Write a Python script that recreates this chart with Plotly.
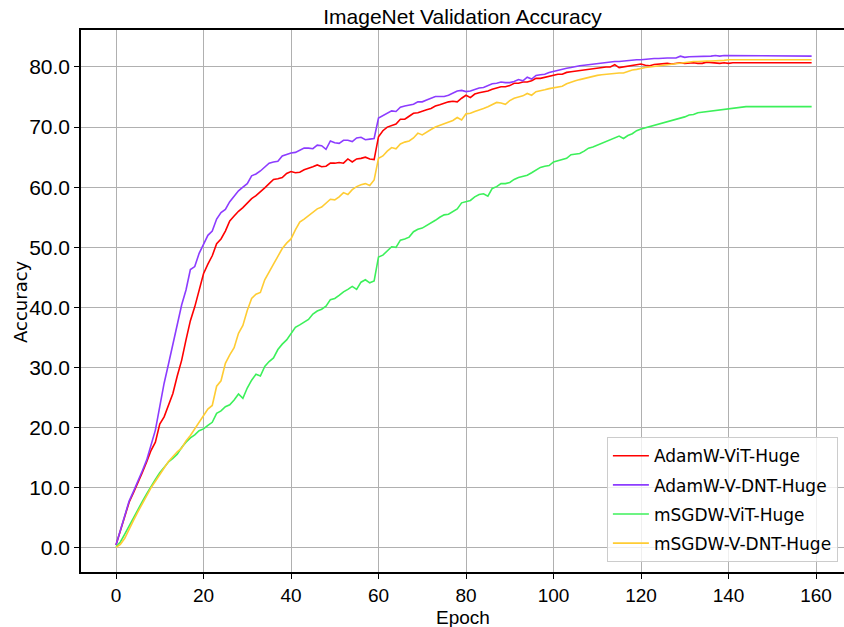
import plotly.graph_objects as go

epochs = list(range(160))

adamw_vit = [
    0.5, 2.9, 5.3, 7.6, 9.2, 10.8, 12.5, 14.3, 16.2, 17.6,
    20.6, 21.8, 23.6, 25.7, 28.6, 31.2, 34.6, 37.8, 40.1, 43.0,
    45.6, 47.2, 48.6, 50.6, 51.4, 52.7, 54.4, 55.2, 56.0, 56.6,
    57.3, 58.1, 58.6, 59.2, 59.9, 60.6, 61.3, 61.4, 61.6, 62.3,
    62.6, 62.4, 62.5, 62.9, 63.1, 63.4, 63.7, 63.4, 63.5, 64.0,
    64.0, 64.1, 64.0, 64.7, 64.2, 64.7, 64.8, 65.0, 64.7, 64.6,
    68.4, 69.4, 70.0, 70.2, 70.5, 71.3, 71.3, 71.8, 72.3, 72.4,
    72.7, 72.9, 73.1, 73.5, 73.7, 74.0, 74.2, 74.3, 74.2, 74.8,
    75.3, 74.9, 75.5, 75.7, 75.8, 76.0, 76.3, 76.5, 76.7, 76.7,
    76.9, 77.3, 77.3, 77.5, 77.5, 77.7, 78.1, 78.1, 78.3, 78.4,
    78.6, 78.8, 78.8, 79.1, 79.2, 79.3, 79.5, 79.5, 79.6, 79.8,
    79.9, 79.9, 80.0, 80.0, 80.4, 79.9, 80.0, 80.1, 80.2, 80.3,
    80.5, 80.3, 80.2, 80.4, 80.5, 80.5, 80.6, 80.5, 80.6, 80.7,
    80.6, 80.7, 80.7, 80.6, 80.6, 80.8, 80.7, 80.7, 80.6, 80.7,
    80.6, 80.7, 80.7, 80.7, 80.7, 80.7, 80.7, 80.7, 80.7, 80.7,
    80.7, 80.7, 80.7, 80.7, 80.7, 80.7, 80.7, 80.7, 80.7, 80.7,
]

adamw_vdnt = [
    0.5, 2.9, 5.3, 7.8, 9.4, 11.0, 12.8, 14.6, 17.3, 19.6,
    23.5, 27.4, 30.6, 33.9, 37.6, 40.4, 42.9, 46.3, 46.8, 49.0,
    50.5, 52.0, 52.7, 54.7, 55.8, 56.3, 57.6, 58.6, 59.4, 60.0,
    60.6, 61.9, 62.2, 62.7, 63.4, 64.0, 64.2, 64.3, 65.2, 65.5,
    65.7, 65.8, 66.1, 66.5, 66.5, 66.4, 67.0, 66.9, 66.3, 67.7,
    67.4, 67.3, 67.8, 67.8, 67.6, 68.2, 68.3, 67.9, 68.0, 68.1,
    71.5, 71.9, 72.3, 72.7, 72.6, 73.3, 73.5, 73.6, 73.8, 74.2,
    74.2, 74.5, 74.8, 75.1, 75.1, 75.1, 75.3, 75.6, 76.0, 76.1,
    75.9, 76.0, 76.3, 76.5, 76.6, 76.9, 77.2, 77.3, 77.5, 77.4,
    77.4, 77.6, 77.9, 77.7, 78.3, 78.0, 78.6, 78.7, 78.8, 79.1,
    79.3, 79.5, 79.6, 79.8, 79.9, 80.1, 80.2, 80.3, 80.4, 80.5,
    80.6, 80.7, 80.8, 80.9, 80.9, 80.9, 81.0, 81.1, 81.2, 81.2,
    81.2, 81.3, 81.3, 81.4, 81.4, 81.5, 81.5, 81.5, 81.5, 81.8,
    81.6, 81.7, 81.7, 81.8, 81.8, 81.8, 81.8, 81.9, 81.8, 81.9,
    81.9, 81.9, 81.9, 81.9, 81.9, 81.9, 81.9, 81.9, 81.9, 81.9,
    81.9, 81.9, 81.9, 81.9, 81.9, 81.9, 81.8, 81.8, 81.8, 81.8,
]

msgdw_vit = [
    0.2, 1.0, 2.3, 3.7, 5.0, 6.4, 7.7, 9.0, 10.3, 11.4,
    12.5, 13.5, 14.3, 14.9, 15.6, 16.7, 17.6, 18.3, 18.8, 19.5,
    19.8, 20.4, 20.9, 22.4, 22.8, 23.5, 23.8, 24.6, 25.6, 24.9,
    26.6, 27.9, 28.9, 28.6, 30.2, 31.0, 31.6, 33.0, 33.9, 34.6,
    35.6, 36.7, 37.1, 37.5, 38.0, 38.9, 39.4, 39.7, 40.2, 41.3,
    41.5, 42.0, 42.6, 43.0, 43.5, 43.0, 44.2, 44.6, 44.1, 44.4,
    48.4, 48.7, 49.4, 50.1, 50.0, 51.2, 51.4, 51.7, 52.6, 53.0,
    53.2, 53.6, 54.1, 54.5, 55.0, 55.4, 55.5, 56.0, 56.4, 57.4,
    57.6, 57.8, 58.4, 58.8, 58.9, 58.5, 59.8, 60.1, 60.6, 60.6,
    60.8, 61.3, 61.6, 61.8, 62.0, 62.4, 62.8, 63.3, 63.5, 63.6,
    64.2, 64.4, 64.5, 64.8, 65.4, 65.5, 65.6, 66.0, 66.5, 66.7,
    67.0, 67.3, 67.6, 67.9, 68.3, 68.5, 68.1, 68.6, 68.9, 69.4,
    69.7, 69.9, 70.0, 70.2, 70.4, 70.7, 70.9, 71.1, 71.3, 71.5,
    71.7, 72.0, 72.1, 72.4, 72.5, 72.6, 72.7, 72.8, 72.9, 73.0,
    73.0, 73.1, 73.2, 73.3, 73.4, 73.4, 73.4, 73.4, 73.4, 73.4,
    73.4, 73.4, 73.4, 73.4, 73.4, 73.4, 73.4, 73.4, 73.4, 73.4,
]

msgdw_vdnt = [
    0.1, 0.6, 1.6, 3.2, 4.6, 6.0, 7.4, 8.7, 10.0, 11.1,
    12.3, 13.3, 14.4, 15.2, 16.0, 16.6, 17.8, 18.7, 19.8, 21.0,
    22.2, 23.1, 23.7, 26.9, 27.8, 30.7, 32.1, 33.3, 35.7, 37.0,
    39.5, 41.5, 42.2, 42.5, 44.6, 45.8, 47.2, 48.5, 49.8, 50.7,
    51.4, 52.9, 54.2, 54.7, 55.3, 55.9, 56.4, 56.7, 57.4, 58.0,
    57.9, 58.4, 59.1, 58.8, 59.6, 60.1, 60.4, 60.6, 60.3, 61.2,
    64.8, 65.2, 66.0, 66.6, 66.4, 67.2, 67.5, 67.7, 68.2, 69.0,
    68.7, 69.2, 69.6, 70.0, 70.3, 70.6, 70.9, 71.1, 71.6, 71.2,
    72.2, 72.3, 72.6, 72.8, 73.1, 73.4, 73.8, 74.1, 74.0, 73.8,
    74.4, 74.8, 75.0, 75.2, 75.6, 75.3, 75.9, 76.0, 76.2, 76.4,
    76.5, 76.7, 76.8, 77.2, 77.5, 77.7, 77.9, 78.1, 78.3, 78.4,
    78.6, 78.7, 78.8, 78.9, 79.0, 79.0, 79.0, 79.3, 79.5, 79.6,
    79.8, 79.9, 80.0, 80.1, 80.2, 80.3, 80.4, 80.5, 80.6, 80.7,
    80.7, 80.8, 80.9, 80.9, 81.0, 81.0, 81.0, 81.0, 81.1, 81.1,
    81.2, 81.2, 81.2, 81.2, 81.2, 81.2, 81.2, 81.2, 81.2, 81.2,
    81.2, 81.2, 81.2, 81.2, 81.2, 81.2, 81.2, 81.2, 81.2, 81.2,
]

series_names = ["AdamW-ViT-Huge", "AdamW-V-DNT-Huge", "mSGDW-ViT-Huge", "mSGDW-V-DNT-Huge"]
series_values = [adamw_vit, adamw_vdnt, msgdw_vit, msgdw_vdnt]
series_colors = ["#ff0000", "#8c3cff", "#3cf05a", "#ffcc33"]

x_ticks = [0, 20, 40, 60, 80, 100, 120, 140, 160]
y_ticks = [0, 10, 20, 30, 40, 50, 60, 70, 80]

narrow = "Liberation Sans, Arial, sans-serif"
wide = "DejaVu Sans, sans-serif"

fig = go.Figure()
for name, vals, col in zip(series_names, series_values, series_colors):
    fig.add_trace(go.Scatter(x=epochs, y=vals, mode="lines", name=name, legendgroup=name,
                             line=dict(color=col, width=1.6)))

fig.update_layout(
    width=844, height=627,
    margin=dict(l=81, r=0, t=30, b=55),
    paper_bgcolor="white", plot_bgcolor="white",
    title=dict(text="ImageNet Validation Accuracy", xref="paper", x=0.5, xanchor="center",
               yref="container", y=0.973, yanchor="middle",
               font=dict(family=narrow, size=21, color="black")),
    showlegend=True,
    legend=dict(x=0.992, y=0.018, xanchor="right", yanchor="bottom",
                bgcolor="rgba(255,255,255,0.8)", bordercolor="#cccccc", borderwidth=1,
                font=dict(family=wide, size=17, color="black"),
                tracegroupgap=4, itemwidth=36),
    font=dict(family=narrow, color="black"),
    annotations=[
        dict(text="Epoch", xref="paper", yref="paper", x=0.5, y=-0.084,
             xanchor="center", yanchor="middle", showarrow=False,
             font=dict(family=narrow, size=19, color="black")),
        dict(text="Accuracy", xref="paper", yref="paper", x=-0.08, y=0.5,
             xanchor="center", yanchor="middle", showarrow=False, textangle=-90,
             font=dict(family=wide, size=18, color="black")),
    ],
)
fig.update_xaxes(range=[-8, 166.4], tickvals=x_ticks, ticktext=[str(v) for v in x_ticks],
                 showgrid=True, gridcolor="#b0b0b0", gridwidth=1.3,
                 showline=True, linecolor="black", linewidth=1.5, mirror=True,
                 ticks="outside", ticklen=5, tickcolor="black",
                 tickfont=dict(family=narrow, size=19, color="black"),
                 zeroline=False)
fig.update_yaxes(range=[-4.0, 86.15], tickvals=y_ticks, ticktext=[f"{v:.1f}" for v in y_ticks],
                 showgrid=True, gridcolor="#b0b0b0", gridwidth=1.3,
                 showline=True, linecolor="black", linewidth=1.5, mirror=False,
                 ticks="outside", ticklen=5, tickcolor="black",
                 tickfont=dict(family=narrow, size=21, color="black"),
                 zeroline=False)

fig.write_html("out.html", config={"displayModeBar": False},
               post_script="document.body.style.margin='0px';")
